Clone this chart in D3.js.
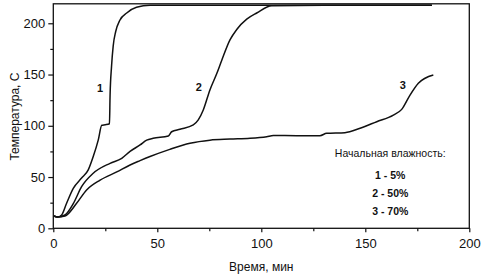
<!DOCTYPE html>
<html>
<head>
<meta charset="utf-8">
<script src="https://cdn.jsdelivr.net/npm/d3@7"></script>
<style>
  body { margin: 0; background: #fff; }
  text { font-family: "Liberation Sans", Arial, sans-serif; fill: #111; }
</style>
</head>
<body>
<script>
// time, min / temperature, C
const t1 = [0.3, 2, 4, 6.4, 9.6, 13.6, 16.8, 19.2, 21.6, 23.3, 25, 27, 27.3, 28, 28.8, 30, 32, 35.3, 40, 46.5, 60, 100, 150, 182];
const v1 = [12, 11, 13, 24.5, 39, 49, 57, 70, 86, 100.5, 101, 102, 130, 158, 178, 192, 203, 210, 215.6, 217.5, 217.5, 217.5, 217.5, 217.5];

const t2 = [0.3, 2, 5.6, 9.6, 13.6, 19.2, 27.3, 32.9, 36.9, 41.7, 44.9, 48, 55.3, 56.9, 60.9, 67.3, 69.7, 72.1, 75.3, 78.6, 81, 85, 88.2, 93, 97.8, 105, 130, 160, 182];
const v2 = [12, 11, 13, 24, 40.6, 53.7, 63.4, 68.3, 75, 81.3, 86, 87.8, 90, 94.2, 96.6, 100.8, 105.7, 115.4, 135, 151, 164, 184, 194, 204, 210, 217, 217.5, 217.5, 217.5];

const t3 = [0.3, 2, 5.6, 11.2, 16, 22.5, 30.5, 36.9, 41.7, 46.5, 56, 65.7, 75.3, 85, 94.6, 102.6, 105.8, 128.2, 131.4, 140.2, 147.5, 155.5, 163.5, 167.5, 171.5, 175.5, 182.7];
const v3 = [12, 11, 12, 24.4, 37.4, 47, 55, 61.8, 66, 70, 77, 83, 86, 87, 87.8, 89.4, 90.5, 90.3, 92.7, 93.3, 97.6, 104, 110.5, 116, 130, 141.5, 149.6];

const xTicks = [0, 50, 100, 150, 200];
const yTicks = [0, 50, 100, 150, 200];
const curveLabels = [["1", 22.5, 133], ["2", 70, 134], ["3", 168, 136]];
const legendTitle = "Начальная влажность:";
const legendItems = ["1 - 5%", "2 - 50%", "3 - 70%"];

const W = 481, H = 275;
const margin = {top: 3.8, right: 11.7, bottom: 46.7, left: 53.3};
const width = W - margin.left - margin.right,
      height = H - margin.top - margin.bottom;

const svg = d3.select("body").append("svg")
    .attr("width", W)
    .attr("height", H);
const g = svg.append("g")
    .attr("transform", `translate(${margin.left},${margin.top})`);

const x = d3.scaleLinear().domain([0, 200]).range([0, width]);
const y = d3.scaleLinear().domain([0, 219]).range([height, 0]);

// minor ticks first, then major with labels
g.append("g")
    .attr("transform", `translate(0,${height})`)
    .call(d3.axisBottom(x).tickValues(d3.range(25, 200, 50)).tickSize(3).tickFormat(""));
g.append("g")
    .call(d3.axisLeft(y).tickValues(d3.range(25, 219, 50)).tickSize(3).tickFormat(""));

const xAxis = g.append("g")
    .attr("transform", `translate(0,${height})`)
    .call(d3.axisBottom(x).tickValues(xTicks).tickSize(4).tickPadding(6));
const yAxis = g.append("g")
    .call(d3.axisLeft(y).tickValues(yTicks).tickSize(5).tickPadding(3));

g.selectAll(".domain").remove();
g.selectAll(".tick line").attr("stroke", "#111").attr("stroke-width", 1.2);
g.selectAll(".tick text").style("font-size", "13px").style("font-family", "Liberation Sans, Arial, sans-serif").attr("fill", "#111");

// frame
g.append("rect")
    .attr("width", width)
    .attr("height", height)
    .attr("fill", "none")
    .attr("stroke", "#111")
    .attr("stroke-width", 1.3);

const line = d3.line()
    .x(d => x(d[0]))
    .y(d => y(d[1]))
    .curve(d3.curveMonotoneX);

[[t1, v1], [t2, v2], [t3, v3]].forEach(([ts, vs]) => {
    g.append("path")
        .datum(d3.zip(ts, vs))
        .attr("fill", "none")
        .attr("stroke", "#111")
        .attr("stroke-width", 1.5)
        .attr("d", line);
});

g.selectAll(".clabel")
    .data(curveLabels)
    .join("text")
    .attr("x", d => x(d[1]))
    .attr("y", d => y(d[2]))
    .attr("text-anchor", "middle")
    .style("font-size", "11px")
    .style("font-weight", "bold")
    .text(d => d[0]);

// legend block
g.append("text")
    .attr("x", x(162))
    .attr("y", y(70))
    .attr("text-anchor", "middle")
    .style("font-size", "10.5px")
    .text(legendTitle);

g.selectAll(".leg")
    .data(legendItems)
    .join("text")
    .attr("x", x(162))
    .attr("y", (d, i) => y(48.5) + i * 18)
    .attr("text-anchor", "middle")
    .style("font-size", "10.5px")
    .style("font-weight", "bold")
    .text(d => d);

// axis titles
svg.append("text")
    .attr("x", margin.left + x(100))
    .attr("y", 271)
    .attr("text-anchor", "middle")
    .style("font-size", "12px")
    .text("Время, мин");

svg.append("text")
    .attr("transform", `translate(19,${margin.top + y(109)}) rotate(-90)`)
    .attr("text-anchor", "middle")
    .style("font-size", "12px")
    .text("Температура, C");
</script>
</body>
</html>
